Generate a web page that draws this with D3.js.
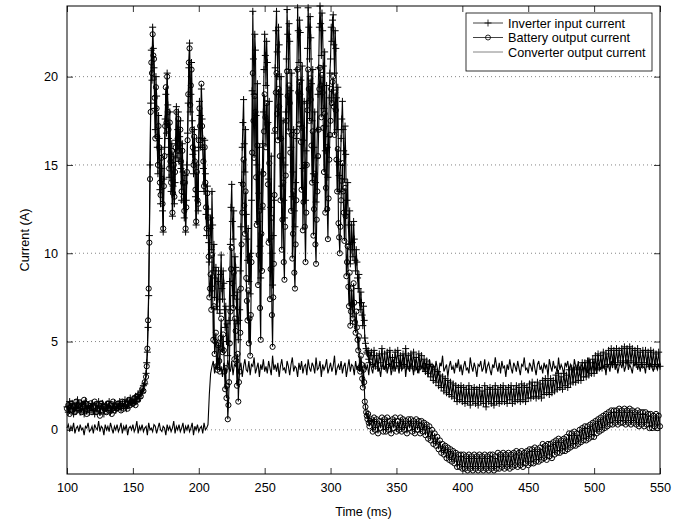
<!DOCTYPE html>
<html>
<head>
<meta charset="utf-8">
<script src="https://cdn.jsdelivr.net/npm/d3@7"></script>
<style>
  body { margin: 0; background: #fff; }
  text { font-family: "Liberation Sans", Arial, sans-serif; }
</style>
</head>
<body>
<script>
// Currents. Inverter and battery: 1 ms samples, 0.5 ms in the 160-330 ms burst.
// Converter: 1 ms samples all along.

const inverterInput = [
  1.3, 1.0, 1.6, 1.2, 1.5, 0.9, 1.4, 1.1, 1.7, 1.2,
  1.0, 1.5, 1.3, 0.9, 1.6, 1.2, 1.4, 1.0, 1.3, 1.5,
  1.1, 0.9, 1.4, 1.2, 1.6, 1.0, 1.3, 1.5, 0.9, 1.2,
  1.4, 1.1, 1.6, 1.0, 1.3, 1.2, 1.5, 1.1, 1.4, 1.3,
  1.6, 1.2, 1.5, 1.3, 1.7, 1.2, 1.6, 1.4, 1.8, 1.5,
  1.7, 1.5, 1.9, 1.6, 2.0, 1.8, 2.2, 2.1, 2.5, 2.6,
  // 160 - 330 ms, every 0.5 ms
  3.2, 3.8, 4.4, 5.8, 7.6, 11.0, 15.0, 18.5, 21.5, 19.8,
  22.8, 21.6, 20.5, 18.2, 17.0, 20.0, 18.9, 16.0, 14.5, 17.8,
  16.5, 13.6, 12.8, 15.9, 14.8, 12.4, 11.2, 14.2, 16.0, 17.6,
  19.0, 16.8, 20.2, 18.4, 16.5, 14.3, 18.0, 15.6, 13.5, 16.2,
  12.1, 13.8, 15.5, 12.8, 14.0, 16.4, 18.3, 15.4, 17.0, 18.0,
  15.2, 16.6, 17.5, 14.8, 13.0, 16.2, 14.6, 12.9, 12.0, 14.4,
  11.2, 13.0, 15.0, 16.8, 18.5, 20.5, 21.9, 18.0, 19.0, 20.8,
  17.5, 15.6, 14.5, 17.0, 15.8, 13.2, 11.6, 15.0, 13.5, 12.4,
  16.0, 18.6, 17.8, 16.0, 19.3, 17.6, 16.5, 14.8, 13.5, 16.4,
  14.5, 12.2, 11.0, 13.8, 12.5, 10.6, 9.5, 11.4, 12.0, 10.2,
  13.5, 11.6, 9.0, 10.5, 7.5, 8.6, 9.2, 7.0, 6.8, 8.4,
  9.0, 7.4, 6.6, 8.8, 9.9, 8.0, 7.4, 9.0, 8.3, 6.8,
  5.8, 7.0, 5.0, 6.0, 4.2, 5.0, 6.2, 8.4, 10.5, 12.6,
  13.9, 11.8, 10.8, 12.4, 7.6, 9.8, 9.2, 7.4, 6.0, 7.8,
  5.1, 6.2, 6.8, 9.0, 11.5, 14.0, 16.0, 17.4, 18.7, 16.2,
  14.6, 17.0, 12.2, 10.8, 9.6, 11.4, 8.4, 9.8, 7.7, 10.0,
  13.0, 19.2, 23.7, 21.0, 19.0, 22.4, 21.5, 17.8, 15.0, 19.6,
  11.8, 13.4, 16.0, 10.4, 8.6, 14.6, 12.5, 16.2, 18.0, 20.4,
  22.4, 21.2, 19.5, 22.0, 20.8, 17.4, 14.2, 18.6, 10.8, 12.6,
  15.5, 10.0, 8.2, 11.0, 13.0, 16.8, 20.5, 22.6, 23.7, 21.4,
  20.0, 22.8, 21.8, 19.0, 16.5, 20.0, 13.8, 15.4, 17.5, 13.0,
  12.0, 15.0, 18.0, 21.0, 23.8, 22.4, 20.4, 23.0, 22.0, 19.2,
  16.0, 20.2, 13.2, 14.6, 17.0, 12.4, 11.5, 14.0, 16.5, 20.4,
  23.9, 22.6, 20.8, 23.2, 22.5, 19.8, 17.2, 20.6, 14.8, 16.4,
  18.6, 15.0, 13.0, 15.8, 18.5, 21.6, 23.9, 22.8, 21.0, 23.4,
  22.2, 19.6, 17.5, 20.4, 14.5, 16.0, 18.0, 14.0, 12.9, 15.4,
  17.0, 19.0, 20.5, 22.8, 24.0, 23.0, 21.2, 23.6, 22.6, 20.6,
  18.2, 21.4, 15.8, 17.2, 19.5, 16.0, 14.3, 16.6, 18.8, 20.2,
  21.0, 22.8, 22.0, 23.2, 23.5, 21.8, 20.2, 22.6, 21.6, 18.8,
  17.0, 19.4, 15.2, 14.4, 13.5, 15.0, 16.5, 17.6, 18.6, 17.0,
  15.8, 14.2, 17.2, 15.6, 12.2, 13.0, 14.0, 11.6, 10.5, 12.4,
  9.4, 10.2, 11.6, 10.6, 9.8, 11.8, 10.8, 9.6, 9.0, 10.2,
  9.5, 8.6, 8.0, 8.8, 7.2, 6.8, 7.8, 7.2, 6.5, 5.9,
  7.0, 6.2, 5.2, 4.9, 4.6, 4.4, 4.3, 4.5, 4.0, 3.8,
  // 330 - 550 ms, every 1 ms
  4.2, 4.4, 3.7, 4.5, 3.6, 4.2, 3.5, 4.3, 3.8, 4.6, 3.6,
  4.3, 3.5, 4.4, 3.7, 4.5, 3.6, 4.1, 3.5, 4.4, 3.8,
  4.5, 3.6, 4.2, 3.5, 4.3, 3.7, 4.6, 3.6, 4.2, 3.5,
  4.3, 3.6, 4.4, 3.5, 4.1, 3.4, 4.3, 3.6, 4.2, 3.5,
  4.0, 3.3, 3.9, 3.2, 3.7, 3.0, 3.6, 2.8, 3.4, 2.7,
  3.3, 2.5, 3.1, 2.4, 3.0, 2.2, 2.9, 2.1, 2.8, 2.0,
  2.7, 1.9, 2.6, 1.8, 2.5, 1.6, 2.4, 1.7, 2.5, 1.6,
  2.4, 1.5, 2.3, 1.6, 2.5, 1.4, 2.3, 1.6, 2.4, 1.5,
  2.3, 1.4, 2.4, 1.6, 2.2, 1.5, 2.5, 1.3, 2.3, 1.6,
  2.4, 1.5, 2.3, 1.4, 2.5, 1.6, 2.3, 1.5, 2.4, 1.6,
  2.5, 1.6, 2.3, 1.5, 2.4, 1.7, 2.5, 1.5, 2.3, 1.6,
  2.5, 1.7, 2.4, 1.6, 2.6, 1.7, 2.5, 1.6, 2.4, 1.8,
  2.6, 1.8, 2.7, 1.9, 2.5, 1.8, 2.7, 1.9, 2.6, 1.8,
  2.8, 2.0, 2.9, 2.1, 2.8, 2.0, 2.9, 2.1, 2.8, 2.2,
  3.1, 2.3, 3.2, 2.4, 3.0, 2.3, 3.2, 2.5, 3.1, 2.4,
  3.4, 2.6, 3.5, 2.7, 3.4, 2.7, 3.5, 2.8, 3.4, 2.8,
  3.8, 3.0, 3.8, 3.0, 3.9, 3.1, 3.8, 3.2, 4.0, 3.2,
  4.2, 3.4, 4.3, 3.5, 4.2, 3.5, 4.4, 3.6, 4.3, 3.7,
  4.5, 3.7, 4.6, 3.8, 4.5, 3.7, 4.6, 3.8, 4.5, 3.9,
  4.6, 3.8, 4.7, 3.9, 4.6, 3.8, 4.7, 3.9, 4.6, 3.8,
  4.5, 3.7, 4.6, 3.8, 4.4, 3.7, 4.5, 3.8, 4.5, 3.7,
  4.4, 3.6, 4.5, 3.7, 4.4, 3.6, 4.3, 3.7, 4.4, 3.6
];

const batteryOutput = [
  1.2, 1.4, 0.9, 1.5, 1.1, 1.3, 1.0, 1.6, 1.2, 1.4,
  1.5, 1.0, 1.3, 1.7, 1.1, 0.9, 1.4, 1.2, 1.5, 1.0,
  1.3, 1.6, 1.0, 1.2, 1.4, 0.8, 1.5, 1.1, 1.3, 1.2,
  1.0, 1.5, 1.2, 1.4, 0.9, 1.6, 1.1, 1.3, 1.2, 1.5,
  1.3, 1.1, 1.6, 1.2, 1.5, 1.4, 1.2, 1.7, 1.4, 1.6,
  1.5, 1.8, 1.4, 1.9, 1.7, 2.0, 1.9, 2.3, 2.2, 2.7,
  // 160 - 330 ms, every 0.5 ms
  3.0, 3.6, 4.6, 6.2, 8.0, 10.6, 14.2, 18.0, 20.8, 20.2,
  22.4, 21.2, 21.0, 18.8, 16.5, 19.4, 18.2, 16.6, 15.0, 17.2,
  16.0, 14.0, 13.3, 15.4, 14.2, 12.8, 11.4, 13.8, 15.5, 17.2,
  19.4, 17.4, 20.0, 18.0, 17.0, 14.8, 17.4, 15.2, 14.0, 15.8,
  12.3, 13.4, 15.0, 13.2, 14.6, 16.0, 18.0, 15.8, 16.5, 17.6,
  15.8, 16.2, 17.0, 15.2, 13.5, 15.8, 14.0, 13.2, 12.4, 14.0,
  11.4, 12.6, 14.6, 16.4, 19.0, 20.8, 21.6, 18.4, 19.5, 20.4,
  17.0, 16.0, 15.0, 16.6, 15.2, 13.6, 11.8, 14.6, 13.0, 12.8,
  16.4, 18.2, 17.2, 16.4, 19.6, 17.2, 16.0, 15.2, 13.8, 16.0,
  14.0, 12.6, 11.4, 13.4, 12.0, 9.8, 7.5, 8.0, 8.8, 6.8,
  9.9, 8.0, 5.1, 7.0, 4.3, 5.0, 5.5, 3.6, 3.4, 4.8,
  4.9, 3.9, 3.3, 5.2, 6.3, 4.6, 4.4, 5.4, 4.5, 3.3,
  2.3, 3.5, 1.8, 2.5, 0.6, 1.4, 2.7, 4.9, 6.7, 9.1,
  10.3, 8.3, 6.9, 8.9, 4.0, 6.3, 5.6, 3.9, 2.5, 4.3,
  1.6, 2.7, 3.3, 5.5, 8.0, 10.5, 12.3, 13.9, 15.3, 12.7,
  11.1, 13.5, 8.6, 7.3, 6.2, 7.9, 4.9, 6.3, 4.2, 6.5,
  9.5, 15.7, 20.2, 17.5, 15.4, 18.9, 18.0, 14.3, 11.6, 16.1,
  8.2, 9.9, 12.4, 6.9, 5.1, 11.1, 9.0, 12.7, 14.5, 16.9,
  19.0, 17.7, 16.0, 18.5, 17.3, 13.9, 10.6, 15.1, 7.4, 9.1,
  12.0, 6.5, 4.7, 7.5, 9.4, 13.3, 17.0, 19.1, 20.2, 17.9,
  16.4, 19.3, 18.3, 15.5, 13.0, 16.5, 10.2, 11.9, 14.0, 9.5,
  8.5, 11.5, 14.4, 17.5, 20.3, 18.9, 16.9, 19.5, 18.5, 15.7,
  12.4, 16.7, 9.7, 11.1, 13.5, 8.9, 8.0, 10.5, 13.0, 16.9,
  20.4, 19.1, 17.3, 19.7, 19.0, 16.3, 13.6, 17.1, 11.3, 12.9,
  15.0, 11.5, 9.5, 12.3, 15.0, 18.1, 20.4, 19.3, 17.5, 19.9,
  18.7, 16.1, 14.0, 16.9, 11.0, 12.5, 14.5, 10.5, 9.4, 11.9,
  13.5, 15.5, 17.0, 19.3, 20.5, 19.5, 17.7, 20.1, 19.1, 17.1,
  14.6, 17.9, 12.3, 13.7, 16.0, 12.5, 10.8, 13.1, 15.3, 16.7,
  17.5, 19.3, 18.5, 19.7, 20.0, 18.3, 16.7, 19.1, 18.1, 15.3,
  13.5, 15.9, 11.7, 10.9, 10.0, 11.5, 13.0, 14.1, 15.1, 13.5,
  12.3, 10.7, 13.7, 12.1, 8.7, 9.5, 10.4, 8.1, 7.0, 8.9,
  5.9, 6.7, 8.0, 7.1, 6.3, 8.3, 7.2, 6.1, 5.5, 6.7,
  5.8, 5.1, 4.5, 5.3, 3.5, 3.3, 4.2, 3.7, 2.9, 2.4,
  3.4, 2.7, 1.6, 1.3, 1.0, 0.8, 0.6, 0.9, 0.4, 0.2,
  // 330 - 550 ms, every 1 ms
  0.5, 0.6, -0.1, 0.7, 0.0, 0.6, -0.2, 0.5, 0.1, 0.7, -0.1,
  0.6, -0.1, 0.7, 0.0, 0.5, -0.2, 0.6, 0.1, 0.7, -0.1,
  0.5, 0.0, 0.7, -0.1, 0.6, 0.0, 0.5, -0.2, 0.6, 0.1,
  0.6, -0.1, 0.5, -0.2, 0.6, 0.0, 0.5, -0.2, 0.5, -0.1,
  0.4, -0.3, 0.3, -0.5, 0.2, -0.6, 0.0, -0.8, -0.2, -0.9,
  -0.4, -1.1, -0.6, -1.3, -0.8, -1.4, -0.9, -1.6, -1.0, -1.7,
  -1.1, -1.8, -1.2, -1.9, -1.3, -2.1, -1.4, -2.1, -1.4, -2.2,
  -1.4, -2.2, -1.5, -2.3, -1.4, -2.2, -1.5, -2.3, -1.4, -2.2,
  -1.5, -2.3, -1.4, -2.2, -1.5, -2.3, -1.4, -2.2, -1.5, -2.3,
  -1.4, -2.2, -1.4, -2.3, -1.5, -2.2, -1.3, -2.2, -1.4, -2.1,
  -1.3, -2.2, -1.4, -2.1, -1.3, -2.2, -1.4, -2.1, -1.3, -2.0,
  -1.2, -2.1, -1.3, -2.0, -1.2, -2.1, -1.3, -1.9, -1.2, -2.0,
  -1.1, -1.9, -1.1, -1.9, -1.0, -1.8, -1.1, -1.8, -1.0, -1.7,
  -0.8, -1.6, -0.9, -1.7, -0.8, -1.5, -0.8, -1.6, -0.7, -1.4,
  -0.6, -1.3, -0.5, -1.3, -0.6, -1.2, -0.5, -1.2, -0.4, -1.1,
  -0.2, -1.0, -0.2, -0.9, -0.1, -0.9, -0.2, -0.8, 0.0, -0.7,
  0.1, -0.6, 0.2, -0.6, 0.2, -0.5, 0.3, -0.4, 0.4, -0.4,
  0.5, -0.2, 0.6, -0.1, 0.7, 0.0, 0.8, 0.1, 0.9, 0.2,
  1.0, 0.3, 1.1, 0.3, 1.1, 0.4, 1.1, 0.3, 1.2, 0.4,
  1.1, 0.4, 1.2, 0.3, 1.1, 0.4, 1.2, 0.3, 1.1, 0.4,
  1.0, 0.3, 1.1, 0.2, 1.0, 0.3, 1.0, 0.2, 1.0, 0.3,
  0.9, 0.1, 0.9, 0.1, 0.8, 0.2, 0.9, 0.1, 0.8, 0.2
];

const converterOutput = [
  0.1, 0.3, -0.1, 0.2, 0.0, 0.4, -0.2, 0.1, 0.2, -0.1,
  0.3, 0.0, 0.1, -0.3, 0.2, 0.1, 0.4, -0.1, 0.0, 0.2,
  -0.2, 0.3, 0.1, 0.0, 0.5, -0.1, 0.2, 0.1, -0.3, 0.3,
  0.0, 0.2, -0.1, 0.4, 0.1, -0.2, 0.2, 0.0, 0.3, -0.1,
  0.1, 0.4, -0.2, 0.2, 0.0, 0.3, -0.3, 0.1, 0.2, 0.0,
  0.3, -0.1, 0.1, 0.5, -0.2, 0.2, 0.0, 0.3, -0.1, 0.1,
  0.2, -0.3, 0.4, 0.0, 0.1, -0.1, 0.3, 0.2, -0.2, 0.1,
  0.4, 0.0, -0.1, 0.2, 0.1, -0.3, 0.3, 0.0, 0.2, -0.1,
  0.1, 0.5, -0.2, 0.2, 0.0, 0.3, -0.1, 0.1, 0.4, -0.2,
  0.2, 0.0, 0.3, -0.1, 0.1, 0.4, -0.3, 0.2, 0.0, 0.3,
  -0.1, 0.1, 0.2, -0.2, 0.4, 0.0, 0.1, 0.3, 2.0, 3.2,
  3.6, 3.9, 3.2, 3.7, 3.4, 4.1, 3.3, 3.6, 3.0, 3.8, 3.5,
  3.2, 4.0, 3.5, 3.3, 3.9, 3.1, 3.7, 3.6, 4.2, 3.2,
  3.5, 3.8, 3.0, 3.6, 4.0, 3.4, 3.3, 3.9, 3.1, 3.7,
  3.6, 4.1, 3.2, 3.5, 3.8, 3.0, 3.7, 3.4, 4.0, 3.3,
  3.6, 3.2, 3.9, 3.5, 3.1, 4.2, 3.4, 3.7, 3.3, 3.8,
  3.0, 3.6, 4.0, 3.4, 3.5, 3.2, 3.9, 3.6, 3.1, 3.7,
  4.1, 3.3, 3.6, 3.5, 3.0, 3.8, 3.4, 3.9, 3.2, 3.6,
  3.7, 3.1, 4.0, 3.5, 3.3, 3.8, 3.6, 3.2, 4.1, 3.4,
  3.5, 3.9, 3.0, 3.7, 3.4, 3.6, 4.0, 3.2, 3.5, 3.8,
  3.3, 3.6, 4.2, 3.1, 3.5, 3.7, 3.4, 3.9, 3.2, 3.6,
  3.8, 3.0, 3.5, 4.0, 3.3, 3.7, 3.6, 3.1, 3.9, 3.4,
  3.6, 3.3, 4.0, 3.5, 3.2, 3.8, 3.4, 3.7, 3.1, 3.9,
  3.5, 3.2, 3.8, 3.6, 4.1, 3.3, 3.5, 3.0, 3.7, 3.6,
  3.4, 3.9, 3.2, 3.6, 3.8, 3.1, 3.5, 4.0, 3.3, 3.7,
  3.6, 3.2, 3.9, 3.4, 3.5, 4.1, 3.0, 3.7, 3.5, 3.3,
  3.8, 3.6, 3.1, 4.0, 3.4, 3.6, 3.2, 3.9, 3.5, 3.7,
  3.3, 3.8, 3.5, 3.0, 4.0, 3.6, 3.4, 3.7, 3.2, 3.9,
  3.5, 3.1, 3.8, 3.6, 4.2, 3.3, 3.5, 3.7, 3.0, 3.6,
  3.9, 3.4, 3.6, 3.2, 3.8, 3.5, 4.0, 3.3, 3.7, 3.1,
  3.6, 3.9, 3.4, 3.5, 3.2, 4.1, 3.6, 3.3, 3.8, 3.5,
  3.0, 3.7, 3.6, 3.9, 3.3, 3.5, 4.0, 3.2, 3.6, 3.8,
  3.4, 3.1, 3.7, 3.5, 4.1, 3.6, 3.3, 3.8, 3.2, 3.9,
  3.5, 3.6, 3.0, 3.7, 3.4, 4.0, 3.5, 3.2, 3.8, 3.6,
  3.3, 3.9, 3.5, 3.1, 3.7, 3.6, 4.1, 3.4, 3.5, 3.2,
  3.8, 3.6, 3.3, 4.0, 3.5, 3.1, 3.7, 3.9, 3.4, 3.6,
  3.2, 3.8, 3.5, 3.7, 3.0, 4.0, 3.6, 3.3, 3.9, 3.5,
  3.6, 3.2, 4.1, 3.4, 3.7, 3.5, 3.1, 3.8, 3.6, 3.9,
  3.3, 3.7, 3.5, 3.2, 4.0, 3.6, 3.4, 3.9, 3.1, 3.7,
  3.6, 3.4, 3.8, 3.5, 3.2, 4.1, 3.6, 3.3, 3.7, 3.9,
  3.5, 3.2, 3.8, 3.6, 3.4, 4.0, 3.5, 3.7, 3.1, 3.8,
  3.6, 3.3, 3.9, 3.5, 4.1, 3.4, 3.7, 3.2, 3.6, 3.8,
  3.5, 3.9, 3.3, 3.6, 4.0, 3.4, 3.7, 3.5, 3.2, 3.8,
  3.6, 4.1, 3.4, 3.7, 3.3, 3.9, 3.5, 3.6, 3.2, 4.0,
  3.7, 3.4, 3.8, 3.5, 3.3, 3.9, 3.6, 3.4, 3.7, 3.5
];

// sample times (ms)
const timeMs = d3.range(100, 551);
const timeBurst = d3.range(100, 160).concat(d3.range(160, 330, 0.5), d3.range(330, 551));
const xTicks = [100, 150, 200, 250, 300, 350, 400, 450, 500, 550];
const yTicks = [0, 5, 10, 15, 20];
const legendNames = ["Inverter input current", "Battery output current", "Converter output current"];

const WIDTH = 686;
const HEIGHT = 522;
const mLeft = 67, mRight = 660, mTop = 6, mBottom = 474;
const fontSize = 12.7;

const svg = d3.select("body").append("svg")
  .attr("width", WIDTH)
  .attr("height", HEIGHT);

const x = d3.scaleLinear().domain([100, 550]).range([mLeft, mRight]);
const y = d3.scaleLinear().domain([-2.5, 24]).range([mBottom, mTop]);

// dotted horizontal grid
svg.append("g").selectAll("line")
  .data(yTicks)
  .enter()
  .append("line")
  .attr("x1", mLeft).attr("x2", mRight)
  .attr("y1", d => y(d)).attr("y2", d => y(d))
  .attr("stroke", "#666")
  .attr("stroke-width", 0.8)
  .attr("stroke-dasharray", "1,3");

// data
const plot = svg.append("g");

function drawSeries(values, times, marker) {
  const line = d3.line().x((d, i) => x(times[i])).y(d => y(d));
  plot.append("path")
    .datum(values)
    .attr("d", line)
    .attr("fill", "none")
    .attr("stroke", "#000")
    .attr("stroke-width", 1.1);
  if (marker === "plus") {
    plot.append("g").selectAll("path")
      .data(values)
      .enter()
      .append("path")
      .attr("d", (d, i) => `M${x(times[i]) - 3.5},${y(d)}h7M${x(times[i])},${y(d) - 3.5}v7`)
      .attr("stroke", "#000")
      .attr("stroke-width", 1.0);
  }
  if (marker === "circle") {
    plot.append("g").selectAll("circle")
      .data(values)
      .enter()
      .append("circle")
      .attr("cx", (d, i) => x(times[i]))
      .attr("cy", d => y(d))
      .attr("r", 2.6)
      .attr("fill", "none")
      .attr("stroke", "#000")
      .attr("stroke-width", 1.0);
  }
}

drawSeries(inverterInput, timeBurst, "plus");
drawSeries(batteryOutput, timeBurst, "circle");
drawSeries(converterOutput, timeMs, null);

// axes with inward ticks on all sides
svg.append("g").attr("transform", `translate(0,${mBottom})`)
  .call(d3.axisBottom(x).tickValues(xTicks).tickSizeInner(-6).tickSizeOuter(0).tickPadding(9));
svg.append("g").attr("transform", `translate(${mLeft},0)`)
  .call(d3.axisLeft(y).tickValues(yTicks).tickSizeInner(-6).tickSizeOuter(0).tickPadding(9));
svg.append("g").attr("transform", `translate(0,${mTop})`)
  .call(d3.axisTop(x).tickValues(xTicks).tickSizeInner(-6).tickSizeOuter(0).tickFormat(""));
svg.append("g").attr("transform", `translate(${mRight},0)`)
  .call(d3.axisRight(y).tickValues(yTicks).tickSizeInner(-6).tickSizeOuter(0).tickFormat(""));

svg.selectAll(".domain").remove();
svg.selectAll(".tick line").attr("stroke", "#000").attr("stroke-width", 0.8);
svg.selectAll(".tick text")
  .attr("fill", "#000")
  .style("font-size", fontSize + "px")
  .style("font-family", '"Liberation Sans", Arial, sans-serif');

svg.append("rect")
  .attr("x", mLeft).attr("y", mTop)
  .attr("width", mRight - mLeft).attr("height", mBottom - mTop)
  .attr("fill", "none")
  .attr("stroke", "#000")
  .attr("stroke-width", 1);

// axis titles
svg.append("text")
  .attr("x", (mLeft + mRight) / 2).attr("y", 516)
  .attr("text-anchor", "middle")
  .style("font-size", fontSize + "px")
  .text("Time (ms)");

svg.append("text")
  .attr("transform", `translate(28.5,${(mTop + mBottom) / 2}) rotate(-90)`)
  .attr("text-anchor", "middle")
  .style("font-size", fontSize + "px")
  .text("Current (A)");

// legend
const legend = svg.append("g");
legend.append("rect")
  .attr("x", 466).attr("y", 13)
  .attr("width", 186).attr("height", 58)
  .attr("fill", "#fff")
  .attr("stroke", "#000")
  .attr("stroke-width", 0.8);

const rowY = [23, 37.5, 52];
legendNames.forEach((name, i) => {
  const ly = rowY[i];
  legend.append("line")
    .attr("x1", 473).attr("x2", 503)
    .attr("y1", ly).attr("y2", ly)
    .attr("stroke", i === 2 ? "#666" : "#111")
    .attr("stroke-width", 0.8);
  if (i === 0) {
    legend.append("path")
      .attr("d", `M484.5,${ly}h7M488,${ly - 3.5}v7`)
      .attr("stroke", "#000").attr("stroke-width", 0.8);
  }
  if (i === 1) {
    legend.append("circle")
      .attr("cx", 488).attr("cy", ly).attr("r", 2.5)
      .attr("fill", "none").attr("stroke", "#000").attr("stroke-width", 0.85);
  }
  legend.append("text")
    .attr("x", 508).attr("y", ly + 4.5)
    .style("font-size", fontSize + "px")
    .text(name);
});
</script>
</body>
</html>
